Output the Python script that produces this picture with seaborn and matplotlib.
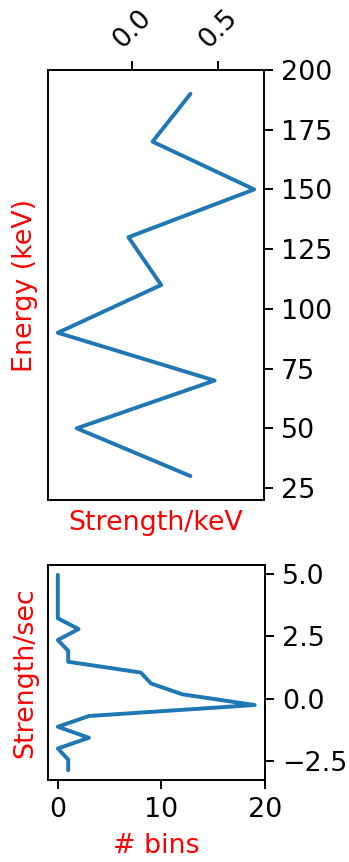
import numpy as np
import pandas as pd
import matplotlib
matplotlib.use("Agg")
import matplotlib.pyplot as plt
import seaborn as sns

# Top panel: strength vs energy
energy = [190, 170, 150, 130, 110, 90, 70, 50, 30]
strength = [0.34, 0.12, 0.71, -0.02, 0.17, -0.43, 0.48, -0.32, 0.34]

# Bottom panel: histogram counts along strength/sec
bin_centers = [4.95, 4.52, 4.08, 3.65, 3.21, 2.78, 2.34, 1.91, 1.47, 1.04,
               0.60, 0.17, -0.26, -0.70, -1.13, -1.57, -2.00, -2.44, -2.87]
counts = [0, 0, 0, 0, 0, 2, 0, 1, 1, 8, 9, 12, 19, 3, 0, 3, 0, 1, 1]

sns.set_style("ticks")
plt.rcParams['font.family'] = ['DejaVu Sans']
plt.rcParams['font.size'] = 11

fig = plt.figure(figsize=(349 / 176, 862 / 176), dpi=176)
ax1 = fig.add_axes([0.1375, 0.42, 0.619, 0.4988])
ax2 = fig.add_axes([0.1375, 0.0951, 0.622, 0.2494])

top = pd.DataFrame({'strength': strength, 'energy': energy})
sns.lineplot(data=top, x='strength', y='energy', sort=False, estimator=None,
             ax=ax1, color='#1f77b4', linewidth=1.6)
ax1.xaxis.tick_top()
ax1.xaxis.set_label_position('bottom')
ax1.yaxis.tick_right()
ax1.yaxis.set_label_position('left')
ax1.set_xticks([0.0, 0.5])
ax1.tick_params(axis='x', labelrotation=45)
ax1.set_yticks([25, 50, 75, 100, 125, 150, 175, 200])
ax1.set_ylim(20, 200)
ax1.set_xlabel('Strength/keV', color='red', fontsize=11)
ax1.set_ylabel('Energy (keV)', color='red', fontsize=11)

bottom = pd.DataFrame({'counts': counts, 'center': bin_centers})
sns.lineplot(data=bottom, x='counts', y='center', sort=False, estimator=None,
             ax=ax2, color='#1f77b4', linewidth=1.6)
ax2.yaxis.tick_right()
ax2.yaxis.set_label_position('left')
ax2.set_xticks([0, 10, 20])
ax2.set_yticks([-2.5, 0.0, 2.5, 5.0])
ax2.set_xlabel('# bins', color='red', fontsize=11)
ax2.set_ylabel('Strength/sec', color='red', fontsize=11)

for ax in (ax1, ax2):
    for s in ax.spines.values():
        s.set_color('black')
        s.set_linewidth(0.8)
    ax.tick_params(colors='black', length=3.5, width=0.8, labelsize=11)

fig.savefig('out.png', dpi=176)
